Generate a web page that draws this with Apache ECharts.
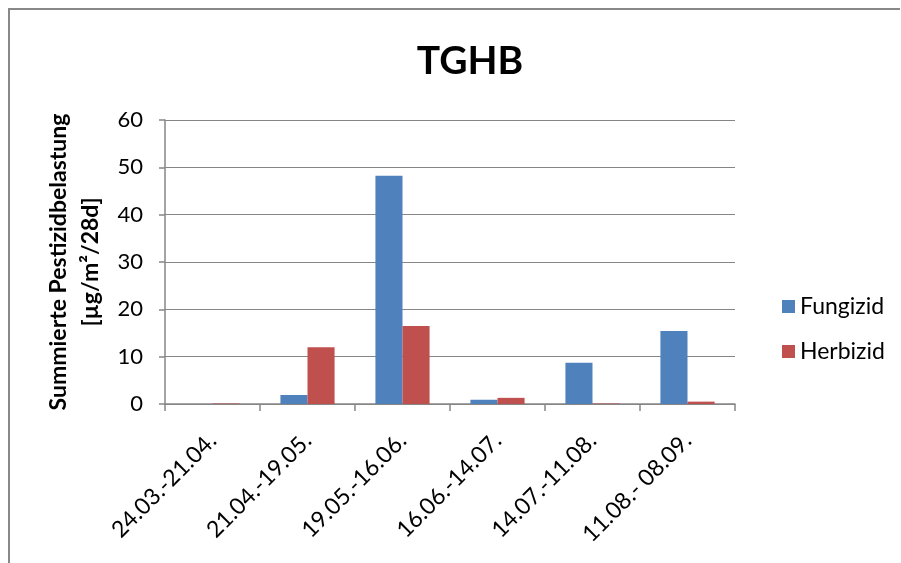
<!DOCTYPE html>
<html><head><meta charset="utf-8">
<script src="https://cdn.jsdelivr.net/npm/echarts@6/dist/echarts.min.js"></script>
<style>html,body{margin:0;padding:0;background:#fff}#c{width:901px;height:563px}</style>
</head><body><div id="c"></div>
<script>
const categories = ['24.03.-21.04.', '21.04.-19.05.', '19.05.-16.06.', '16.06.-14.07.', '14.07.-11.08.', '11.08.- 08.09.'];
const fungizid = [0, 1.9, 48.2, 0.9, 8.7, 15.4];
const herbizid = [0.1, 12.0, 16.5, 1.3, 0.1, 0.5];
const yTicks = [0, 10, 20, 30, 40, 50, 60];
const FONT = 'Lato, "Liberation Sans", sans-serif';
const chart = echarts.init(document.getElementById('c'));
chart.setOption({
  animation: false,
  backgroundColor: '#fff',
  title: { text: 'TGHB', left: 465, top: 37, textAlign: 'center',
    textStyle: { fontFamily: FONT, fontSize: 39, fontWeight: 'bold', color: '#000' } },
  legend: { orient: 'vertical', left: 777, top: 290, itemWidth: 13, itemHeight: 13, itemGap: 22,
    icon: 'rect', textStyle: { fontFamily: FONT, fontSize: 23, color: '#000' },
    data: ['Fungizid', 'Herbizid'] },
  grid: { left: 165, right: 166, top: 120, bottom: 159, containLabel: false },
  xAxis: { type: 'category', data: categories,
    axisLine: { lineStyle: { color: '#868686', width: 1.5 } },
    axisTick: { show: true, alignWithLabel: false, length: 7, lineStyle: { color: '#868686', width: 1.5 } },
    axisLabel: { rotate: 45, margin: 33, fontFamily: FONT, fontSize: 23, color: '#000', interval: 0 } },
  yAxis: { type: 'value', min: 0, max: 60, interval: 10,
    name: 'Summierte Pestizidbelastung\n[µg/m²/28d]', nameLocation: 'middle', nameGap: 54,
    nameTextStyle: { fontFamily: FONT, fontSize: 23, fontWeight: 'bold', color: '#000', lineHeight: 32 },
    axisLine: { show: true, lineStyle: { color: '#868686', width: 1.5 } },
    axisTick: { show: true, length: 6, lineStyle: { color: '#868686', width: 1.5 } },
    axisLabel: { margin: 22, fontFamily: FONT, fontSize: 22, color: '#000',
      formatter: v => yTicks.includes(v) ? String(v) : '' },
    splitLine: { lineStyle: { color: '#868686', width: 1.2 } } },
  series: [
    { name: 'Fungizid', type: 'bar', data: fungizid, barGap: '0%', barCategoryGap: '43%',
      itemStyle: { color: '#4F81BD' } },
    { name: 'Herbizid', type: 'bar', data: herbizid, barGap: '0%', barCategoryGap: '43%',
      itemStyle: { color: '#C0504D' } }
  ],
  graphic: [
    { type: 'polyline', silent: true, shape: { points: [[9, 600], [9, 9], [900, 9]] },
      style: { stroke: '#888', lineWidth: 2, fill: null } }
  ]
});
</script></body></html>
